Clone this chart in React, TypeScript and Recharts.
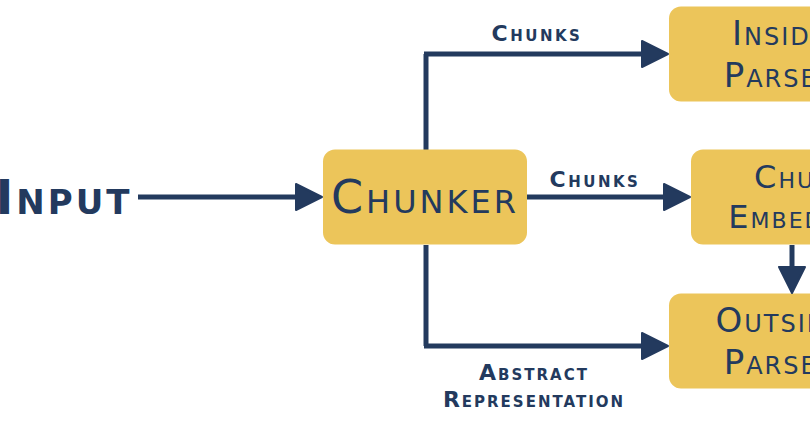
import { ScatterChart, Scatter, XAxis, YAxis, ReferenceLine } from 'recharts';

const NAVY = '#233a5e';
const GOLD = '#ecc55a';

// boxes: centre x/y, width, height (diagram units), text lines, font size
const boxes = [
  { x: 425, y: 197, w: 204, h: 95, lines: ['Chunker'], size: 46, spacing: 3 },
  { x: 780, y: 54, w: 222, h: 95, lines: ['Inside', 'Parser'], size: 34, spacing: 2 },
  { x: 802, y: 197, w: 222, h: 95, lines: ['Chunk', 'Embedder'], size: 32, spacing: 2 },
  { x: 780, y: 341, w: 222, h: 95, lines: ['Outside', 'Parser'], size: 34, spacing: 2 },
];

const labels = [
  { x: 64, y: 197, lines: ['Input'], size: 48, spacing: 3 },
  { x: 537, y: 33, lines: ['Chunks'], size: 22, spacing: 2.5 },
  { x: 595, y: 179, lines: ['Chunks'], size: 22, spacing: 2.5 },
  { x: 534, y: 386, lines: ['Abstract', 'Representation'], size: 22, spacing: 2 },
];

const segments = [
  [[138, 197], [300, 197]],
  [[527, 197], [668, 197]],
  [[426, 150], [426, 54]],
  [[424, 54], [646, 54]],
  [[426, 245], [426, 346]],
  [[424, 346], [646, 346]],
  [[792, 245], [792, 272]],
];

const arrowHeads = [
  { x: 322, y: 197, dir: 'right' },
  { x: 690, y: 197, dir: 'right' },
  { x: 668, y: 54, dir: 'right' },
  { x: 668, y: 346, dir: 'right' },
  { x: 792, y: 293, dir: 'down' },
];

const BoxShape = (props: any) => {
  const { cx, cy, payload } = props;
  const lh = payload.size * 1.25;
  const y0 = cy - ((payload.lines.length - 1) * lh) / 2;
  return (
    <g>
      <rect x={cx - payload.w / 2} y={cy - payload.h / 2} width={payload.w} height={payload.h} rx={12} fill={GOLD} />
      {payload.lines.map((t: string, i: number) => (
        <text key={i} x={cx} y={y0 + i * lh} textAnchor="middle" dominantBaseline="central"
          fill={NAVY} fontSize={payload.size} style={{ fontVariant: 'small-caps', letterSpacing: payload.spacing }}>
          {t}
        </text>
      ))}
    </g>
  );
};

const LabelShape = (props: any) => {
  const { cx, cy, payload } = props;
  const lh = payload.size * 1.2;
  const y0 = cy - ((payload.lines.length - 1) * lh) / 2;
  return (
    <g>
      {payload.lines.map((t: string, i: number) => (
        <text key={i} x={cx} y={y0 + i * lh} textAnchor="middle" dominantBaseline="central"
          fill={NAVY} fontSize={payload.size} fontWeight="bold" style={{ fontVariant: 'small-caps', letterSpacing: payload.spacing }}>
          {t}
        </text>
      ))}
    </g>
  );
};

const HeadShape = (props: any) => {
  const { cx, cy, payload } = props;
  const pts = payload.dir === 'right'
    ? `${cx},${cy} ${cx - 26},${cy - 13} ${cx - 26},${cy + 13}`
    : `${cx},${cy} ${cx - 13},${cy - 26} ${cx + 13},${cy - 26}`;
  return <polygon points={pts} fill={NAVY} stroke={NAVY} strokeWidth={2} strokeLinejoin="round" />;
};

export default function App() {
  return (
    <div style={{ position: 'absolute', left: 0, top: 0, fontFamily: 'DejaVu Sans' }}>
      <ScatterChart width={810} height={430} margin={{ top: 0, right: 0, bottom: 0, left: 0 }}
        style={{ fontFamily: 'DejaVu Sans' }}>
        <XAxis type="number" dataKey="x" domain={[0, 810]} hide />
        <YAxis type="number" dataKey="y" domain={[0, 430]} reversed hide />
        {segments.map((s, i) => (
          <ReferenceLine key={i} segment={[{ x: s[0][0], y: s[0][1] }, { x: s[1][0], y: s[1][1] }]}
            stroke={NAVY} strokeWidth={5} ifOverflow="visible" />
        ))}
        <Scatter data={boxes} shape={BoxShape} isAnimationActive={false} />
        <Scatter data={labels} shape={LabelShape} isAnimationActive={false} />
        <Scatter data={arrowHeads} shape={HeadShape} isAnimationActive={false} />
      </ScatterChart>
    </div>
  );
}
